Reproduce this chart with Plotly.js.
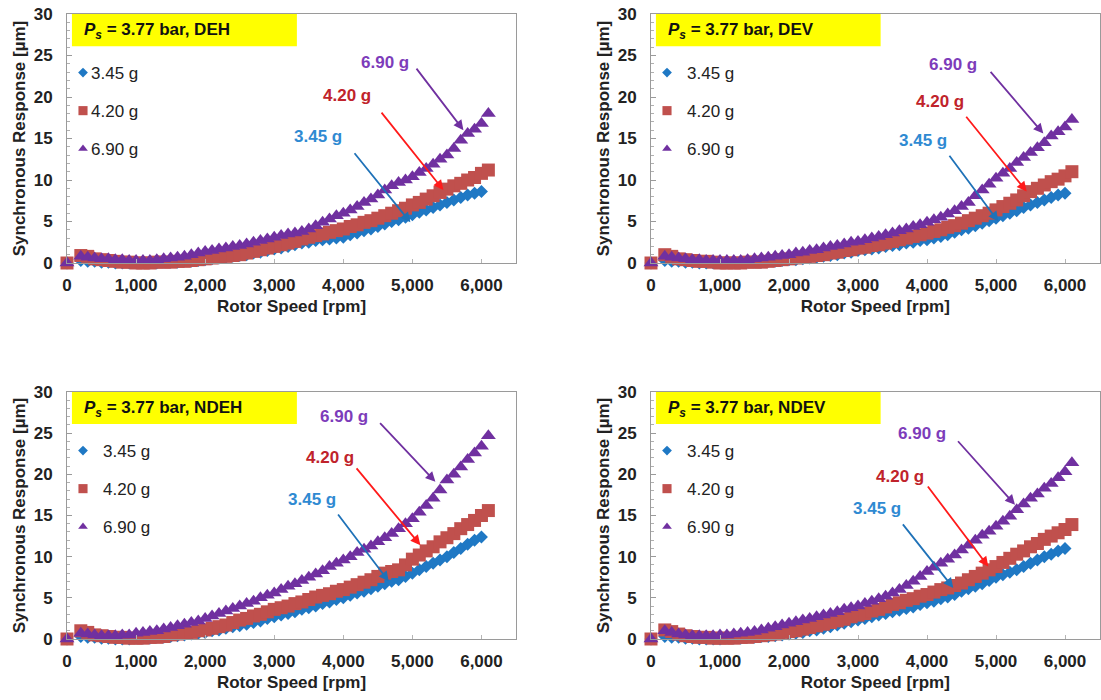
<!DOCTYPE html>
<html>
<head>
<meta charset="utf-8">
<script src="https://cdn.plot.ly/plotly-3.0.1.min.js"></script>
<style>
  html, body { margin: 0; padding: 0; background: #fff; }
  #chart { width: 1101px; height: 700px; }
  /* legend labels sit close to their symbols */
  #chart text.legendtext { transform: translateX(-12px); }
</style>
</head>
<body>
<div id="chart"></div>
<script>
// Rotor speed grid of the coastdown records [rpm]
const rpm = [
  0, 200, 300, 400, 500, 600, 700, 800, 900, 1000,
  1100, 1200, 1300, 1400, 1500, 1600, 1700, 1800, 1900, 2000,
  2100, 2200, 2300, 2400, 2500, 2600, 2700, 2800, 2900, 3000,
  3100, 3200, 3300, 3400, 3500, 3600, 3700, 3800, 3900, 4000,
  4100, 4200, 4300, 4400, 4500, 4600, 4700, 4800, 4900, 5000,
  5100, 5200, 5300, 5400, 5500, 5600, 5700, 5800, 5900, 6000,
  6100
];

// Synchronous response [µm], drive end horizontal
const deh345 = [
  0, 0.3, 0.2, 0.2, 0.1, 0.1, 0.0, 0.0, 0.0, 0.0,
  0.0, 0.0, 0.0, 0.1, 0.1, 0.1, 0.2, 0.2, 0.3, 0.4,
  0.5, 0.6, 0.7, 0.8, 0.9, 1.0, 1.2, 1.3, 1.5, 1.7,
  1.8, 2.0, 2.2, 2.4, 2.5, 2.7, 2.8, 2.9, 3.0, 3.1,
  3.4, 3.6, 3.9, 4.1, 4.4, 4.7, 5.0, 5.2, 5.5, 5.8,
  6.1, 6.4, 6.7, 7.0, 7.3, 7.6, 7.9, 8.2, 8.4, 8.6,
  null
];
const deh420 = [
  0, 0.9, 0.8, 0.5, 0.4, 0.3, 0.2, 0.1, 0.1, 0.0,
  0.0, 0.0, 0.1, 0.1, 0.1, 0.2, 0.2, 0.3, 0.4, 0.5,
  0.6, 0.7, 0.8, 0.9, 1.0, 1.2, 1.4, 1.6, 1.8, 2.0,
  2.2, 2.4, 2.6, 2.9, 3.1, 3.3, 3.5, 3.7, 3.9, 4.1,
  4.4, 4.6, 4.9, 5.1, 5.4, 5.7, 6.0, 6.3, 6.6, 7.0,
  7.3, 7.7, 8.1, 8.5, 8.9, 9.3, 9.6, 10.0, 10.3, 10.8,
  11.2
];
const deh690 = [
  0, 0.8, 0.7, 0.6, 0.5, 0.5, 0.4, 0.4, 0.3, 0.3,
  0.3, 0.3, 0.4, 0.5, 0.6, 0.7, 0.8, 1.0, 1.2, 1.4,
  1.5, 1.7, 1.8, 2.0, 2.1, 2.3, 2.5, 2.7, 2.9, 3.1,
  3.3, 3.5, 3.6, 3.8, 4.1, 4.5, 4.9, 5.3, 5.7, 6.0,
  6.4, 6.8, 7.3, 7.7, 8.2, 8.8, 9.3, 9.7, 10.0, 10.4,
  10.9, 11.4, 11.9, 12.5, 13.0, 13.8, 14.8, 15.6, 16.1, 16.8,
  18.0
];

// Drive end vertical
const dev345 = [
  0, 0.3, 0.2, 0.2, 0.1, 0.1, 0.0, 0.0, 0.0, 0.0,
  0.0, 0.0, 0.0, 0.1, 0.1, 0.1, 0.2, 0.2, 0.3, 0.4,
  0.4, 0.5, 0.6, 0.7, 0.8, 0.9, 1.0, 1.2, 1.3, 1.5,
  1.6, 1.7, 1.8, 2.0, 2.1, 2.2, 2.4, 2.5, 2.7, 2.8,
  3.0, 3.2, 3.4, 3.7, 4.0, 4.2, 4.5, 4.8, 5.1, 5.4,
  5.7, 6.0, 6.3, 6.7, 7.0, 7.3, 7.6, 7.9, 8.2, 8.4,
  null
];
const dev420 = [
  0, 1.0, 0.8, 0.5, 0.4, 0.3, 0.2, 0.2, 0.1, 0.0,
  0.0, 0.0, 0.0, 0.1, 0.1, 0.1, 0.2, 0.3, 0.4, 0.5,
  0.6, 0.7, 0.8, 0.9, 1.0, 1.2, 1.3, 1.5, 1.6, 1.8,
  1.9, 2.1, 2.2, 2.4, 2.6, 2.8, 3.0, 3.2, 3.4, 3.6,
  3.8, 4.0, 4.3, 4.5, 4.8, 5.1, 5.4, 5.7, 6.0, 6.4,
  6.8, 7.2, 7.6, 8.1, 8.6, 9.0, 9.4, 9.8, 10.1, 10.5,
  11.0
];
const dev690 = [
  0, 0.8, 0.7, 0.6, 0.5, 0.4, 0.4, 0.3, 0.3, 0.3,
  0.3, 0.3, 0.3, 0.4, 0.5, 0.6, 0.7, 0.8, 0.9, 1.0,
  1.2, 1.3, 1.5, 1.6, 1.8, 2.0, 2.1, 2.3, 2.5, 2.6,
  2.8, 3.0, 3.2, 3.4, 3.6, 3.9, 4.1, 4.4, 4.6, 4.9,
  5.2, 5.5, 5.9, 6.3, 6.8, 7.3, 8.1, 8.8, 9.5, 10.2,
  10.8, 11.4, 12.1, 12.7, 13.3, 13.9, 14.5, 15.3, 15.8, 16.4,
  17.3
];

// Non-drive end horizontal
const ndeh345 = [
  0, 0.3, 0.2, 0.2, 0.1, 0.1, 0.0, 0.0, 0.0, 0.1,
  0.1, 0.1, 0.2, 0.2, 0.3, 0.4, 0.5, 0.6, 0.7, 0.8,
  1.0, 1.1, 1.3, 1.5, 1.6, 1.8, 2.0, 2.2, 2.5, 2.7,
  2.9, 3.1, 3.3, 3.6, 3.8, 4.0, 4.3, 4.5, 4.8, 5.0,
  5.3, 5.6, 5.8, 6.1, 6.4, 6.7, 7.0, 7.2, 7.6, 8.0,
  8.4, 8.8, 9.2, 9.6, 10.0, 10.5, 11.0, 11.5, 12.0, 12.4,
  null
];
const ndeh420 = [
  0, 1.0, 0.8, 0.5, 0.4, 0.3, 0.2, 0.2, 0.1, 0.1,
  0.1, 0.2, 0.2, 0.3, 0.5, 0.6, 0.7, 0.8, 1.0, 1.1,
  1.3, 1.5, 1.7, 2.0, 2.3, 2.5, 2.8, 3.0, 3.3, 3.6,
  3.8, 4.0, 4.3, 4.5, 4.8, 5.1, 5.3, 5.5, 5.8, 6.0,
  6.3, 6.6, 6.9, 7.2, 7.6, 8.0, 8.2, 8.4, 9.0, 9.7,
  10.2, 10.7, 11.2, 11.8, 12.3, 12.8, 13.4, 13.9, 14.4, 15.0,
  15.6
];
const ndeh690 = [
  0, 0.7, 0.6, 0.5, 0.4, 0.4, 0.4, 0.5, 0.5, 0.7,
  0.8, 0.9, 1.0, 1.2, 1.4, 1.6, 1.8, 2.0, 2.2, 2.5,
  2.8, 3.1, 3.4, 3.7, 4.0, 4.3, 4.6, 5.0, 5.3, 5.6,
  6.0, 6.4, 6.7, 7.1, 7.5, 7.9, 8.3, 8.8, 9.2, 9.6,
  10.0, 10.5, 10.9, 11.3, 11.8, 12.3, 12.8, 13.4, 14.0, 14.6,
  15.4, 16.2, 17.1, 18.1, 19.3, 20.0, 20.9, 21.8, 22.6, 23.4,
  24.7
];

// Non-drive end vertical
const ndev345 = [
  0, 0.3, 0.2, 0.2, 0.1, 0.1, 0.0, 0.0, 0.0, 0.0,
  0.1, 0.1, 0.1, 0.2, 0.2, 0.3, 0.3, 0.4, 0.5, 0.6,
  0.7, 0.8, 1.0, 1.1, 1.3, 1.5, 1.7, 1.9, 2.1, 2.3,
  2.5, 2.7, 2.9, 3.1, 3.3, 3.5, 3.7, 3.9, 4.2, 4.4,
  4.6, 4.9, 5.1, 5.4, 5.8, 6.1, 6.4, 6.7, 7.1, 7.5,
  7.8, 8.1, 8.4, 8.8, 9.2, 9.6, 10.0, 10.3, 10.7, 11.0,
  null
];
const ndev420 = [
  0, 1.1, 0.9, 0.6, 0.4, 0.3, 0.2, 0.2, 0.1, 0.1,
  0.1, 0.1, 0.2, 0.2, 0.3, 0.4, 0.5, 0.6, 0.8, 0.9,
  1.0, 1.2, 1.4, 1.6, 1.8, 2.0, 2.2, 2.4, 2.7, 2.9,
  3.1, 3.4, 3.6, 3.9, 4.2, 4.4, 4.7, 4.9, 5.2, 5.4,
  5.7, 6.0, 6.2, 6.5, 6.8, 7.2, 7.6, 8.0, 8.4, 8.8,
  9.3, 9.8, 10.3, 10.7, 11.2, 11.6, 12.1, 12.5, 12.9, 13.3,
  13.9
];
const ndev690 = [
  0, 1.0, 0.8, 0.6, 0.5, 0.4, 0.4, 0.4, 0.4, 0.5,
  0.5, 0.6, 0.7, 0.8, 0.9, 1.1, 1.3, 1.5, 1.7, 1.9,
  2.1, 2.3, 2.5, 2.7, 2.9, 3.1, 3.3, 3.6, 3.8, 4.0,
  4.3, 4.6, 4.9, 5.2, 5.6, 6.0, 6.5, 7.0, 7.6, 8.2,
  8.7, 9.2, 9.7, 10.2, 10.8, 11.4, 12.0, 12.6, 13.1, 13.7,
  14.3, 14.9, 15.7, 16.4, 17.1, 17.6, 18.3, 18.9, 19.6, 20.3,
  21.4
];

const imbalanceNames = ['3.45 g', '4.20 g', '6.90 g'];
const probeNames = ['DEH', 'DEV', 'NDEH', 'NDEV'];
const supplyPressure = '3.77 bar';

// ---- styling ----
const FONT = 'Arial, "Liberation Sans", "DejaVu Sans", sans-serif';
const W = 1101, H = 700;
const markerStyles = [
  { symbol: 'diamond', size: 10, color: '#1f78c4' },
  { symbol: 'square', size: 13, color: '#c0504d' },
  { symbol: 'triangle-up', size: 13, color: '#7030a0' }
];
const legendSymbolScale = [0.75, 0.7, 0.65];
const labelColors = ['#2f8ad2', '#c0232b', '#7d3cba'];
const arrowColors = ['#1f72b8', '#ff1a1a', '#7030a0'];

// plot-area boxes in pixels: left, right, top, bottom
const boxes = [
  { l: 67, r: 516, t: 14, b: 263 },
  { l: 651, r: 1099.5, t: 14, b: 263 },
  { l: 67, r: 516, t: 392, b: 639 },
  { l: 651, r: 1099.5, t: 392, b: 639 }
];

// callout text positions and arrows (tail -> head) in data units, per panel,
// ordered 3.45 g, 4.20 g, 6.90 g
const callouts = [
  { text: [[3638, 15.2], [4058, 20.2], [4609, 24.2]],
    tail: [[4145, 13.4], [4536, 18.3], [5043, 23.6]],
    head: [[4971, 4.9], [5449, 8.8], [5739, 16.0]] },
  { text: [[3947, 14.8], [4188, 19.4], [4381, 23.9]],
    tail: [[4309, 13.1], [4551, 17.8], [4903, 23.2]],
    head: [[5034, 5.0], [5445, 8.6], [5686, 15.6]] },
  { text: [[3546, 16.9], [3812, 22.0], [4005, 27.0]],
    tail: [[3908, 15.3], [4174, 20.9], [4512, 26.4]],
    head: [[4657, 7.0], [5116, 11.4], [5333, 19.1]] },
  { text: [[3271, 15.9], [3609, 19.7], [3923, 25.0]],
    tail: [[3633, 14.1], [3996, 18.7], [4430, 24.2]],
    head: [[4381, 6.2], [4888, 8.8], [5275, 16.3]] }
];

const panelSeries = [
  [deh345, deh420, deh690],
  [dev345, dev420, dev690],
  [ndeh345, ndeh420, ndeh690],
  [ndev345, ndev420, ndev690]
];

const traces = [];
const layout = {
  width: W, height: H,
  margin: { l: 0, r: 0, t: 0, b: 0 },
  paper_bgcolor: '#ffffff',
  plot_bgcolor: '#ffffff',
  font: { family: FONT, size: 17, color: '#222' },
  showlegend: true,
  annotations: [],
  shapes: []
};

panelSeries.forEach((series, p) => {
  const sfx = p === 0 ? '' : String(p + 1);
  const xa = 'x' + sfx, ya = 'y' + sfx;
  const legendId = 'legend' + sfx;
  const box = boxes[p];

  series.forEach((vals, k) => {
    traces.push({
      type: 'scatter', mode: 'markers',
      x: rpm, y: vals,
      name: imbalanceNames[k],
      xaxis: xa, yaxis: ya,
      legend: legendId,
      legendgroup: probeNames[p] + k,
      marker: Object.assign({ line: { width: 0 } }, markerStyles[k]),
      cliponaxis: false,
      hoverinfo: 'skip'
    });
  });

  layout['xaxis' + sfx] = {
    domain: [box.l / W, box.r / W],
    anchor: ya,
    range: [0, 6500],
    dtick: 1000, tick0: 0,
    tickformat: ',d',
    ticks: 'inside', ticklen: 4, tickcolor: '#b5b5b5', tickwidth: 1,
    showline: true, linecolor: '#9a9a9a', linewidth: 1, mirror: true,
    showgrid: false, zeroline: false,
    automargin: false,
    ticklabelstandoff: 7,
    tickfont: { family: FONT, size: 17, color: '#222', weight: 'bold' },
    title: { text: 'Rotor Speed [rpm]', standoff: 5,
             font: { family: FONT, size: 17, color: '#222', weight: 'bold' } }
  };
  layout['yaxis' + sfx] = {
    domain: [1 - box.b / H, 1 - box.t / H],
    anchor: xa,
    range: [0, 30],
    dtick: 5, tick0: 0,
    ticks: 'inside', ticklen: 5, tickcolor: '#9a9a9a', tickwidth: 1,
    minor: { ticks: 'inside', dtick: 1, ticklen: 3, tickcolor: '#b0b0b0', showgrid: false },
    showline: true, linecolor: '#9a9a9a', linewidth: 1, mirror: true,
    showgrid: false, zeroline: false,
    automargin: false,
    ticklabelstandoff: 10,
    tickfont: { family: FONT, size: 17, color: '#222', weight: 'bold' },
    title: { text: 'Synchronous Response [µm]', standoff: 3,
             font: { family: FONT, size: 17, color: '#222', weight: 'bold' } }
  };

  layout[legendId] = {
    x: (box.l - 4) / W, xanchor: 'left',
    y: 1 - (box.t + 41) / H, yanchor: 'top',
    bgcolor: 'rgba(0,0,0,0)', borderwidth: 0,
    font: { family: FONT, size: 17, color: '#222' },
    traceorder: 'grouped',
    tracegroupgap: 13,
    itemsizing: 'trace'
  };

  // yellow case tag
  layout.shapes.push({
    type: 'rect', xref: xa + ' domain', yref: ya + ' domain',
    x0: 0.011, x1: 0.512, y0: 0.870, y1: 1.0,
    fillcolor: '#ffff00', line: { width: 0 }, layer: 'below'
  });
  layout.annotations.push({
    xref: xa + ' domain', yref: ya + ' domain',
    x: 0.033, y: 0.93, xanchor: 'left', yanchor: 'middle',
    showarrow: false,
    text: '<i>P</i><sub><i>s</i></sub> = ' + supplyPressure + ', ' + probeNames[p],
    font: { family: FONT, size: 17, color: '#111', weight: 'bold' }
  });

  const c = callouts[p];
  for (let k = 0; k < 3; k++) {
    layout.annotations.push({
      xref: xa, yref: ya, x: c.text[k][0], y: c.text[k][1],
      xanchor: 'center', yanchor: 'middle', showarrow: false,
      text: imbalanceNames[k],
      font: { family: FONT, size: 17, color: labelColors[k], weight: 'bold' }
    });
    layout.annotations.push({
      xref: xa, yref: ya, x: c.head[k][0], y: c.head[k][1],
      axref: xa, ayref: ya, ax: c.tail[k][0], ay: c.tail[k][1],
      text: '', showarrow: true,
      arrowhead: 2, arrowsize: 1.1, arrowwidth: 1.8,
      arrowcolor: arrowColors[k]
    });
  }
});

// legend symbols drawn smaller than the data markers, labels pulled in
function compactLegends(gd) {
  gd.querySelectorAll('.legendpoints').forEach((grp, i) => {
    grp.querySelectorAll('path').forEach(path => {
      const base = path.getAttribute('transform') || '';
      if (base.indexOf('scale') < 0) {
        path.setAttribute('transform', base + ' scale(' + legendSymbolScale[i % 3] + ')');
      }
    });
  });
  gd.querySelectorAll('text.legendtext').forEach(txt => {
    txt.style.transform = 'translateX(-12px)';
  });
}

Plotly.newPlot('chart', traces, layout, { staticPlot: true, displayModeBar: false }).then(gd => {
  compactLegends(gd);
  setTimeout(() => compactLegends(gd), 50);
});
</script>
</body>
</html>
